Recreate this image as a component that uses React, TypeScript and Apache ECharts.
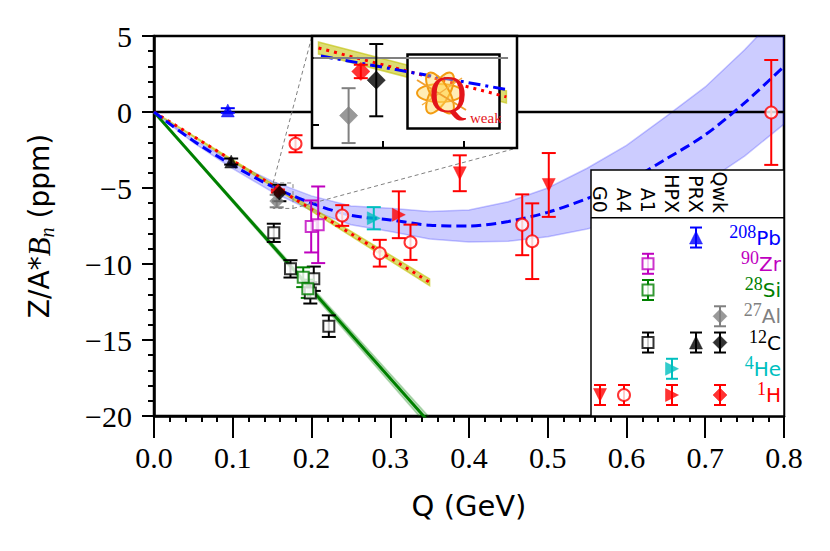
import { useEffect, useRef } from 'react';
import * as echarts from 'echarts';

const W = 830;
const H = 551;

// ---- fit curves
const fitQ = [0, 0.05, 0.1, 0.15, 0.2, 0.25, 0.3, 0.35, 0.4, 0.45, 0.5, 0.55, 0.6, 0.65, 0.7, 0.75, 0.8];
const fitAll = [0, -1.9, -3.5, -4.9, -6.0, -6.8, -7.1, -7.45, -7.5, -7.2, -6.6, -5.7, -4.6, -3.1, -1.5, 0.6, 3.0];
const fitAllHigh = [0, -1.78, -3.28, -4.55, -5.52, -6.18, -6.34, -6.55, -6.45, -5.9, -5.0, -3.7, -2.2, -0.3, 1.65, 4.1, 6.8];
const fitAllLow = [0, -2.02, -3.72, -5.25, -6.48, -7.42, -7.86, -8.35, -8.55, -8.5, -8.2, -7.7, -7.0, -5.9, -4.65, -2.9, -0.8];

const fitSiQ = [0, 0.35];
const fitSi = [0, -20.45];
const fitSiLow = [0, -20.8];
const fitSiHigh = [0, -20.1];

const fitLightQ = [0, 0.35];
const fitLight = [0, -11.2];
const fitLightLow = [0, -11.42];
const fitLightHigh = [0, -10.98];

// ---- fits as drawn inside the zoomed inset
const insetAllQ = [0.1524, 0.1752];
const insetAll = [-4.97, -5.47];
const insetLightQ = [0.1521, 0.1752];
const insetLight = [-4.85, -5.58];
const insetLightLow = [-4.94, -5.67];
const insetLightHigh = [-4.76, -5.49];

// ---- legend table
const experiments = ['G0', 'A4', 'A1', 'HPX', 'PRX', 'Qwk'];
const massNumbers = ['208', '90', '28', '27', '12', '4', '1'];
const elements = ['Pb', 'Zr', 'Si', 'Al', 'C', 'He', 'H'];
const nucleusColors = ['#0000ff', '#bf00bf', '#008000', '#808080', '#000000', '#00bfbf', '#ff0000'];

// ---- measurements: [Q (GeV), Z/A*Bn (ppm), error]
const g0H = [[0.3883, -4.03, 1.18], [0.5013, -4.8, 2.1]];
const a4H = [[0.1797, -2.09, 0.56], [0.239, -6.81, 0.68], [0.2867, -9.29, 0.88], [0.3257, -8.57, 1.16], [0.4676, -7.42, 2.0], [0.4803, -8.5, 2.49], [0.7838, -0.03, 3.45]];
const a1Zr = [[0.1996, -7.53, 1.71], [0.2085, -7.42, 2.52]];
const a1Si = [[0.1895, -10.87, 0.65], [0.1953, -11.63, 0.6]];
const a1C = [[0.1521, -7.95, 0.6], [0.1733, -10.32, 0.57], [0.1985, -11.9, 0.7], [0.2029, -10.97, 0.8], [0.222, -14.09, 0.71]];
const hpxHe = [[0.2791, -6.99, 0.73]];
const hpxH = [[0.3109, -6.76, 1.54]];
const prxPb = [[0.0937, 0.1, 0.15]];
const prxC = [[0.098, -3.26, 0.2]];
const qwkAl = [[0.1558, -5.86, 0.41]];
const qwkH = [[0.1573, -5.2, 0.1]];
const qwkC = [[0.1592, -5.33, 0.54]];

// ---- inset (zoom) ranges
const insetQ = [0.1513, 0.1765];
const insetB = [-6.344, -4.67];
const insetQTicks = [0.16, 0.17];
const insetBTicks = [-6, -5];
const insetRefLine = [[0.1515, -5], [0.1754, -5]];

// legend entries: [experiment index, nucleus index, marker kind]
const legendEntries: [number, number, string][] = [
  [4, 0, 'up'], [2, 1, 'square'], [2, 2, 'square'], [5, 3, 'diamond'],
  [2, 4, 'square'], [4, 4, 'up'], [5, 4, 'diamond'], [3, 5, 'right'],
  [0, 6, 'down'], [1, 6, 'circle'], [3, 6, 'right'], [5, 6, 'diamond'],
];

const measurements: { nucleus: number; kind: string; data: number[][]; inset?: boolean }[] = [
  { nucleus: 4, kind: 'square', data: a1C },
  { nucleus: 2, kind: 'square', data: a1Si },
  { nucleus: 1, kind: 'square', data: a1Zr },
  { nucleus: 6, kind: 'circle', data: a4H },
  { nucleus: 6, kind: 'down', data: g0H },
  { nucleus: 5, kind: 'right', data: hpxHe },
  { nucleus: 6, kind: 'right', data: hpxH },
  { nucleus: 0, kind: 'up', data: prxPb },
  { nucleus: 4, kind: 'up', data: prxC },
  { nucleus: 3, kind: 'diamond', data: qwkAl, inset: true },
  { nucleus: 6, kind: 'diamond', data: qwkH, inset: true },
  { nucleus: 4, kind: 'diamond', data: qwkC, inset: true },
];

const kinds: Record<string, { symbol: string; rotate: number; size: number; open: boolean }> = {
  down: { symbol: 'triangle', rotate: 180, size: 13, open: false },
  up: { symbol: 'triangle', rotate: 0, size: 13, open: false },
  right: { symbol: 'triangle', rotate: -90, size: 13, open: false },
  circle: { symbol: 'circle', rotate: 0, size: 12, open: true },
  square: { symbol: 'rect', rotate: 0, size: 11, open: true },
  diamond: { symbol: 'diamond', rotate: 0, size: 14, open: false },
};

const SERIF = 'Liberation Serif';
const SANS = 'DejaVu Sans';

function markerStyle(kind: string, color: string, scale = 1) {
  const k = kinds[kind];
  return {
    symbol: k.symbol,
    symbolRotate: k.rotate,
    symbolSize: k.size * scale,
    itemStyle: k.open
      ? { color: '#ffffff', borderColor: color, borderWidth: 2 }
      : { color, borderColor: color, borderWidth: 0.5 },
  };
}

function errorBarRender(color: string, capHalf: number, lineWidth: number) {
  return (params: any, api: any) => {
    const q = api.value(0);
    const b = api.value(1);
    const e = api.value(2);
    const hi = api.coord([q, b + e]);
    const lo = api.coord([q, b - e]);
    return {
      type: 'group',
      children: [
        { type: 'line', shape: { x1: hi[0], y1: hi[1], x2: lo[0], y2: lo[1] }, style: { stroke: color, lineWidth } },
        { type: 'line', shape: { x1: hi[0] - capHalf, y1: hi[1], x2: hi[0] + capHalf, y2: hi[1] }, style: { stroke: color, lineWidth } },
        { type: 'line', shape: { x1: lo[0] - capHalf, y1: lo[1], x2: lo[0] + capHalf, y2: lo[1] }, style: { stroke: color, lineWidth } },
      ],
    };
  };
}

function legendErrorRender(colors: string[]) {
  return (params: any, api: any) => {
    const c = api.coord([api.value(0), api.value(1)]);
    const color = colors[params.dataIndex];
    const h = 10;
    const cap = 6;
    const st = () => ({ stroke: color, lineWidth: 2 });
    return {
      type: 'group',
      children: [
        { type: 'line', shape: { x1: c[0], y1: c[1] - h, x2: c[0], y2: c[1] + h }, style: st() },
        { type: 'line', shape: { x1: c[0] - cap, y1: c[1] - h, x2: c[0] + cap, y2: c[1] - h }, style: st() },
        { type: 'line', shape: { x1: c[0] - cap, y1: c[1] + h, x2: c[0] + cap, y2: c[1] + h }, style: st() },
      ],
    };
  };
}

function bandRender(qs: number[], lo: number[], hi: number[], fill: string, stroke: string) {
  return (params: any, api: any) => {
    if (params.dataIndex !== 0) return null;
    const pts: number[][] = [];
    qs.forEach((q, i) => pts.push(api.coord([q, hi[i]])));
    for (let i = qs.length - 1; i >= 0; i--) pts.push(api.coord([qs[i], lo[i]]));
    return { type: 'polygon', shape: { points: pts }, style: { fill, stroke, lineWidth: 1.5 } };
  };
}

function bandSeries(grid: number, qs: number[], lo: number[], hi: number[], fill: string, stroke: string, z: number) {
  return {
    type: 'custom',
    xAxisIndex: grid,
    yAxisIndex: grid,
    clip: true,
    z,
    silent: true,
    renderItem: bandRender(qs, lo, hi, fill, stroke),
    encode: { x: 0, y: [1, 2] },
    data: qs.map((q, i) => [q, lo[i], hi[i]]),
  };
}

function lineSeries(grid: number, qs: number[], vs: number[], color: string, width: number, type: any, z: number, smooth: any = false) {
  return {
    type: 'line',
    xAxisIndex: grid,
    yAxisIndex: grid,
    data: qs.map((q, i) => [q, vs[i]]),
    showSymbol: false,
    symbol: 'none',
    smooth,
    z,
    silent: true,
    lineStyle: { color, width, type, cap: 'butt' },
  };
}

function buildOption() {
  const series: any[] = [];
  // main grid: bands and fits
  series.push(bandSeries(0, fitQ, fitAllLow, fitAllHigh, 'rgba(0,0,255,0.2)', 'rgba(0,0,255,0.22)', 1));
  series.push(bandSeries(0, fitSiQ, fitSiLow, fitSiHigh, 'rgba(0,128,0,0.25)', 'rgba(0,128,0,0.25)', 1));
  series.push(bandSeries(0, fitLightQ, fitLightLow, fitLightHigh, 'rgba(191,191,0,0.55)', 'rgba(191,191,0,0.6)', 1));
  series.push(lineSeries(0, [0, 0.8], [0, 0], '#000000', 2.5, 'solid', 2));
  series.push(lineSeries(0, fitSiQ, fitSi, '#008000', 3, 'solid', 2));
  series.push(lineSeries(0, fitLightQ, fitLight, '#ff0000', 3, [3, 5], 2));
  series.push(lineSeries(0, fitQ, fitAll, '#0000ff', 3, [10, 5], 3, 0.3));
  // zoom rectangle
  series.push({
    type: 'line',
    xAxisIndex: 0,
    yAxisIndex: 0,
    data: [[insetQ[0], insetB[1]], [insetQ[1], insetB[1]], [insetQ[1], insetB[0]], [insetQ[0], insetB[0]], [insetQ[0], insetB[1]]],
    symbol: 'none',
    z: 6,
    silent: true,
    lineStyle: { color: '#808080', width: 1, type: [4, 3] },
  });

  // inset: fits
  series.push(bandSeries(1, insetLightQ, insetLightLow, insetLightHigh, 'rgba(191,191,0,0.55)', 'rgba(191,191,0,0.6)', 22));
  series.push(lineSeries(1, insetLightQ, insetLight, '#ff0000', 3, [3, 5], 23));
  series.push(lineSeries(1, insetAllQ, insetAll, '#0000ff', 3, [12, 5, 3, 5], 23));
  series.push(lineSeries(1, insetRefLine.map((p) => p[0]), insetRefLine.map((p) => p[1]), '#808080', 2, 'solid', 23));

  // measurements
  measurements.forEach((m) => {
    const color = nucleusColors[m.nucleus];
    const grids = m.inset ? [0, 1] : [0];
    grids.forEach((g) => {
      const scale = g === 1 ? 1.3 : 1;
      series.push({
        type: 'custom',
        xAxisIndex: g,
        yAxisIndex: g,
        clip: true,
        silent: true,
        z: g === 1 ? 24 : 4,
        renderItem: errorBarRender(color, 7, 2),
        encode: { x: 0, y: 1 },
        data: m.data,
      });
      series.push({
        type: 'scatter',
        xAxisIndex: g,
        yAxisIndex: g,
        silent: true,
        z: g === 1 ? 25 : 5,
        ...markerStyle(m.kind, color, scale),
        data: m.data.map((d) => [d[0], d[1]]),
      });
    });
  });

  // legend table
  const legendColors = legendEntries.map((e) => nucleusColors[e[1]]);
  series.push({
    type: 'custom',
    xAxisIndex: 2,
    yAxisIndex: 2,
    silent: true,
    z: 26,
    renderItem: legendErrorRender(legendColors),
    encode: { x: 0, y: 1 },
    data: legendEntries.map((e) => [e[0], e[1]]),
  });
  series.push({
    type: 'scatter',
    xAxisIndex: 2,
    yAxisIndex: 2,
    silent: true,
    z: 27,
    data: legendEntries.map((e) => {
      const s = markerStyle(e[2], nucleusColors[e[1]]);
      return { value: [e[0], e[1]], symbol: s.symbol, symbolRotate: s.symbolRotate, symbolSize: s.symbolSize, itemStyle: s.itemStyle };
    }),
  });

  const rich: Record<string, any> = {};
  massNumbers.forEach((m, i) => {
    rich['m' + i] = { fontFamily: SERIF, fontSize: 18, color: nucleusColors[i], verticalAlign: 'top', lineHeight: 16 };
    rich['s' + i] = { fontFamily: SANS, fontSize: 20, color: nucleusColors[i], verticalAlign: 'middle', lineHeight: 30 };
  });

  const tickStyle = { color: '#000', width: 2 };

  return {
    animation: false,
    backgroundColor: '#ffffff',
    grid: [
      { left: 154, right: 46, top: 36, bottom: 135, show: true, borderColor: '#000', borderWidth: 2.5, backgroundColor: 'transparent' },
      { left: 312, top: 36, width: 205, height: 112, show: true, backgroundColor: '#ffffff', borderColor: '#000', borderWidth: 2.5, z: 20 },
      { left: 588, top: 224.4, width: 144, height: 183.75, show: false, z: 25 },
    ],
    xAxis: [
      {
        gridIndex: 0,
        type: 'value',
        min: 0,
        max: 0.8,
        interval: 0.1,
        name: 'Q (GeV)',
        nameLocation: 'middle',
        nameGap: 75,
        nameTextStyle: { fontFamily: SANS, fontSize: 29, color: '#000' },
        axisLine: { show: true, onZero: false, lineStyle: { color: '#000', width: 2.5 } },
        axisTick: { show: true, length: 22, lineStyle: tickStyle },
        minorTick: { show: true, splitNumber: 5, length: 6, lineStyle: tickStyle },
        splitLine: { show: false },
        minorSplitLine: { show: false },
        axisLabel: { fontFamily: SERIF, fontSize: 30, color: '#000', margin: 26, formatter: (v: number) => v.toFixed(1) },
      },
      {
        gridIndex: 1,
        type: 'value',
        min: insetQ[0],
        max: insetQ[1],
        z: 21,
        axisLine: { show: false },
        axisTick: { show: true, inside: true, length: 7, customValues: insetQTicks, lineStyle: tickStyle },
        axisLabel: { show: false },
        splitLine: { show: false },
      },
      {
        gridIndex: 2,
        type: 'category',
        data: experiments,
        position: 'top',
        z: 25,
        axisLine: { show: false },
        axisTick: { show: false },
        splitLine: { show: false },
        axisLabel: { interval: 0, rotate: 90, margin: 11.5, fontFamily: SANS, fontSize: 19, color: '#000' },
      },
    ],
    yAxis: [
      {
        gridIndex: 0,
        type: 'value',
        min: -20,
        max: 5,
        interval: 5,
        name: '{a|Z/A*}{b|B}{c|n}{a| (ppm)}',
        nameLocation: 'middle',
        nameRotate: 90,
        nameGap: 97,
        nameTextStyle: {
          fontFamily: SANS,
          fontSize: 28,
          color: '#000',
          rich: {
            a: { fontFamily: SANS, fontSize: 28, color: '#000', lineHeight: 36, verticalAlign: 'middle' },
            b: { fontFamily: SERIF, fontStyle: 'italic', fontSize: 31, color: '#000', lineHeight: 36, verticalAlign: 'middle' },
            c: { fontFamily: SERIF, fontStyle: 'italic', fontSize: 20, color: '#000', lineHeight: 18, verticalAlign: 'bottom' },
          },
        },
        axisLine: { show: true, onZero: false, lineStyle: { color: '#000', width: 2.5 } },
        axisTick: { show: true, length: 12, lineStyle: tickStyle },
        minorTick: { show: true, splitNumber: 5, length: 6, lineStyle: tickStyle },
        splitLine: { show: false },
        minorSplitLine: { show: false },
        axisLabel: {
          fontFamily: SERIF,
          fontSize: 30,
          color: '#000',
          margin: 22,
          formatter: (v: number) => (v < 0 ? '\u2212' + String(-v) : String(v)),
        },
      },
      {
        gridIndex: 1,
        type: 'value',
        min: insetB[0],
        max: insetB[1],
        z: 21,
        axisLine: { show: false },
        axisTick: { show: true, inside: true, length: 7, customValues: insetBTicks, lineStyle: tickStyle },
        axisLabel: { show: false },
        splitLine: { show: false },
      },
      {
        gridIndex: 2,
        type: 'category',
        data: elements,
        inverse: true,
        position: 'right',
        z: 25,
        axisLine: { show: false },
        axisTick: { show: false },
        splitLine: { show: false },
        axisLabel: {
          interval: 0,
          align: 'right',
          margin: 49,
          formatter: (_v: string, i: number) => `{m${i}|${massNumbers[i]}}{s${i}|${elements[i]}}`,
          rich,
        },
      },
    ],
    series,
  };
}

function buildGraphic(p1: number[], p2: number[]) {
  const insetL = 312;
  const insetT = 36;
  const insetW = 205;
  const insetH = 112;
  const cx = 440;
  const cy = 93;
  const petal = (rot: number) => ({
    type: 'ellipse',
    x: cx,
    y: cy,
    rotation: rot,
    z: 24,
    silent: true,
    shape: { cx: 0, cy: 0, rx: 23, ry: 9 },
    style: { fill: 'rgba(255,214,90,0.45)', stroke: '#f39c12', lineWidth: 2 },
  });
  return [
    { type: 'line', z: 19, silent: true, shape: { x1: p1[0], y1: p1[1], x2: insetL, y2: insetT }, style: { stroke: '#808080', lineWidth: 1, lineDash: [4, 3] } },
    { type: 'line', z: 19, silent: true, shape: { x1: p2[0], y1: p2[1], x2: insetL + insetW, y2: insetT + insetH }, style: { stroke: '#808080', lineWidth: 1, lineDash: [4, 3] } },
    // legend table frame
    { type: 'rect', z: 20, silent: true, shape: { x: 591, y: 170, width: 193, height: 246 }, style: { fill: '#ffffff', stroke: '#000', lineWidth: 1.5 } },
    { type: 'line', z: 21, silent: true, shape: { x1: 591, y1: 217.7, x2: 784, y2: 217.7 }, style: { stroke: '#000', lineWidth: 1.5 } },
    // Qweak logo
    { type: 'rect', z: 23, silent: true, shape: { x: 407.5, y: 54.5, width: 92, height: 74 }, style: { fill: '#ffffff', stroke: '#000', lineWidth: 2.5 } },
    petal(0),
    petal(Math.PI / 3),
    petal((2 * Math.PI) / 3),
    { type: 'line', z: 24, silent: true, shape: { x1: 417, y1: 80, x2: 466, y2: 110 }, style: { stroke: '#f0a030', lineWidth: 2 } },
    { type: 'line', z: 24, silent: true, shape: { x1: 422, y1: 105, x2: 462, y2: 78 }, style: { stroke: '#f5b041', lineWidth: 1.5 } },
    { type: 'text', z: 25, silent: true, x: 448, y: 94, style: { text: 'Q', fontFamily: SERIF, fontSize: 52, fill: '#e3151a', align: 'center', verticalAlign: 'middle' } },
    { type: 'text', z: 25, silent: true, x: 470, y: 118, style: { text: 'weak', fontFamily: SERIF, fontSize: 15, fill: '#e3151a', align: 'left', verticalAlign: 'middle' } },
  ];
}

export default function App() {
  const ref = useRef<HTMLDivElement>(null);
  useEffect(() => {
    if (!ref.current) return;
    const chart = echarts.init(ref.current, null, { renderer: 'svg' });
    chart.setOption(buildOption() as any);
    const p1 = chart.convertToPixel({ gridIndex: 0 } as any, [insetQ[0], insetB[1]]) as number[];
    const p2 = chart.convertToPixel({ gridIndex: 0 } as any, [insetQ[1], insetB[0]]) as number[];
    chart.setOption({ graphic: buildGraphic(p1, p2) } as any);
    return () => chart.dispose();
  }, []);
  return <div ref={ref} style={{ position: 'fixed', left: 0, top: 0, width: W, height: H, background: '#fff' }} />;
}
